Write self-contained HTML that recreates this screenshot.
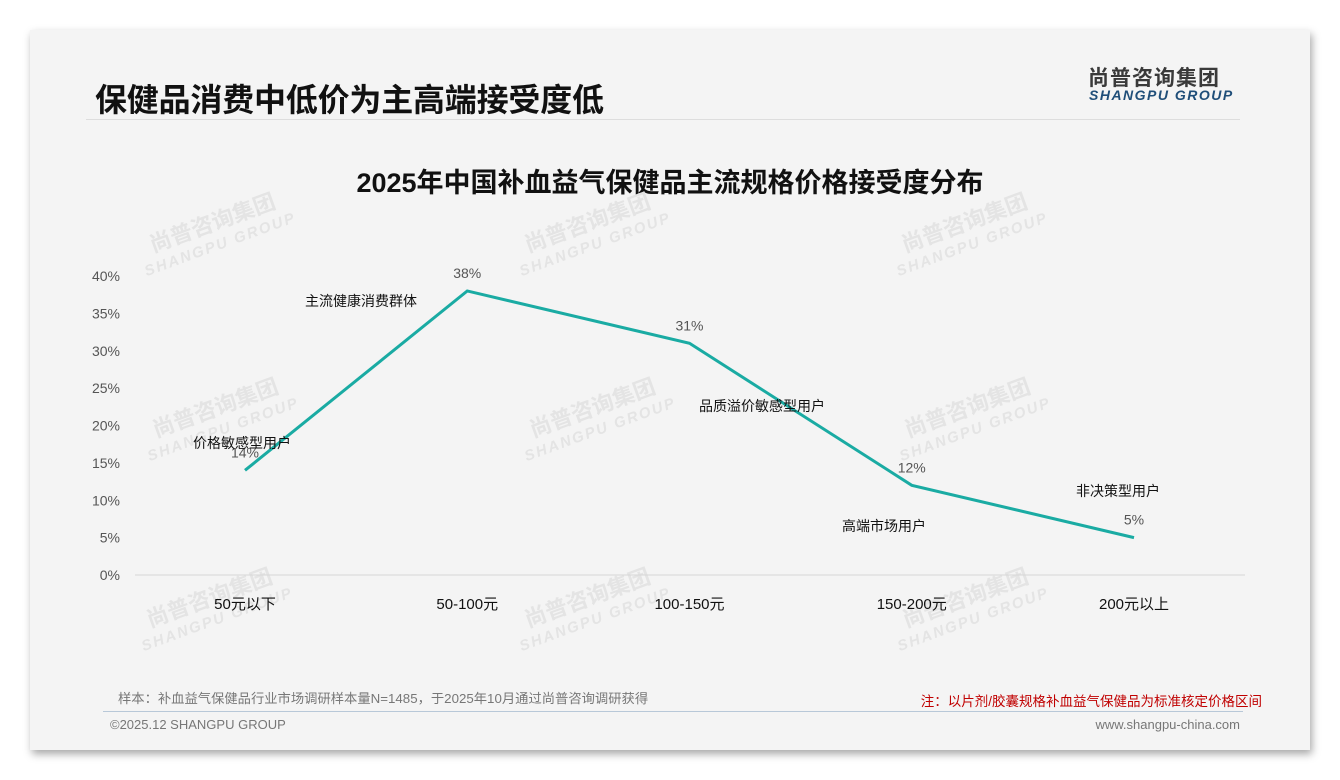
<!DOCTYPE html>
<html><head><meta charset="utf-8">
<style>
html,body{margin:0;padding:0;background:#fff;}
body{width:1340px;height:780px;position:relative;overflow:hidden;font-family:"Liberation Sans","Noto Sans CJK SC",sans-serif;}
#card{position:absolute;left:30px;top:30px;width:1280px;height:720px;background:#f4f4f4;box-shadow:2px 4px 8px rgba(0,0,0,0.35);}
.abs{position:absolute;white-space:nowrap;}
</style></head><body>
<div id="card"></div>
<div class="abs" style="left:95px;top:75px;font-size:32px;font-weight:bold;color:#111;letter-spacing:-0.2px;">保健品消费中低价为主高端接受度低</div>
<div class="abs" style="left:1088px;top:62px;font-size:21px;font-weight:bold;color:#3a3a3a;letter-spacing:1px;">尚普咨询集团</div>
<div class="abs" style="left:1089px;top:87px;font-size:14px;font-weight:bold;font-style:italic;color:#1f4e79;letter-spacing:1.5px;">SHANGPU GROUP</div>
<div class="abs" style="left:86px;top:119px;width:1154px;height:1px;background:#ddd;"></div>
<div class="abs" style="left:0;width:1340px;text-align:center;top:161px;font-size:27px;font-weight:bold;color:#111;">2025年中国补血益气保健品主流规格价格接受度分布</div>
<svg id="chart" width="1340" height="780" style="position:absolute;left:0;top:0;"></svg>
<div class="abs" style="left:118px;top:688px;font-size:13.3px;color:#777;">样本：补血益气保健品行业市场调研样本量N=1485，于2025年10月通过尚普咨询调研获得</div>
<div class="abs" style="right:78px;top:690px;font-size:13.5px;color:#c00000;">注：以片剂/胶囊规格补血益气保健品为标准核定价格区间</div>
<div class="abs" style="left:103px;top:711px;width:1140px;height:1px;background:#b8c8d8;"></div>
<div class="abs" style="left:110px;top:717px;font-size:13px;color:#777;">©2025.12 SHANGPU GROUP</div>
<div class="abs" style="right:100px;top:717px;font-size:13px;color:#777;">www.shangpu-china.com</div>
<script>
const categories=["50元以下","50-100元","100-150元","150-200元","200元以上"];
const values=[14,38,31,12,5];
const segments=["价格敏感型用户","主流健康消费群体","品质溢价敏感型用户","高端市场用户","非决策型用户"];
const yTicks=[0,5,10,15,20,25,30,35,40];
const NS="http://www.w3.org/2000/svg";
const svg=document.getElementById('chart');
function x(i){return 245+i*222.25;}
function y(v){return 575-v*7.475;}
function mk(tag,attrs,text){const e=document.createElementNS(NS,tag);for(const k in attrs)e.setAttribute(k,attrs[k]);if(text!==undefined)e.textContent=text;svg.appendChild(e);return e;}
[[215,230],[590,230],[967,230],[218,415],[595,415],[970,415],[212,605],[590,605],[968,605]].forEach(p=>{
 const g=document.createElementNS(NS,'g');g.setAttribute('transform',`translate(${p[0]},${p[1]}) rotate(-20)`);g.setAttribute('fill','#e4e4e4');g.setAttribute('font-weight','bold');
 
 
 const t1=document.createElementNS(NS,'text');t1.setAttribute('x',0);t1.setAttribute('y',0);t1.setAttribute('text-anchor','middle');t1.setAttribute('font-size','22');t1.textContent='尚普咨询集团';g.appendChild(t1);
 const t2=document.createElementNS(NS,'text');t2.setAttribute('x',0);t2.setAttribute('y',20);t2.setAttribute('text-anchor','middle');t2.setAttribute('font-size','15');t2.setAttribute('font-style','italic');t2.setAttribute('letter-spacing','2');t2.textContent='SHANGPU GROUP';g.appendChild(t2);
 svg.appendChild(g);});
yTicks.forEach(t=>{const e=mk('text',{x:120,y:y(t)+5,'text-anchor':'end','font-size':14,fill:'#555'},t+'%');
 
 });
const ax=mk('line',{x1:135,x2:1245,y1:y(0),y2:y(0),stroke:'#d6d6d6','stroke-width':1});


categories.forEach((c,i)=>{const e=mk('text',{x:x(i),y:609,'text-anchor':'middle','font-size':15,fill:'#111'},c);
 
 });
const pts=values.map((v,i)=>x(i)+','+y(v)).join(' ');
const line=mk('polyline',{points:pts,fill:'none',stroke:'#1aaba3','stroke-width':3,'stroke-linejoin':'miter'});


values.forEach((v,i)=>{const e=mk('text',{x:x(i),y:y(v)-13,'text-anchor':'middle','font-size':14,fill:'#555'},v+'%');
 
 });
const segPos=[[242,448],[361,306],[762,411],[884,531],[1118,496]];
segments.forEach((s,i)=>{const e=mk('text',{x:segPos[i][0],y:segPos[i][1],'text-anchor':'middle','font-size':14,fill:'#111'},s);
 
 });
</script>
</body></html>
